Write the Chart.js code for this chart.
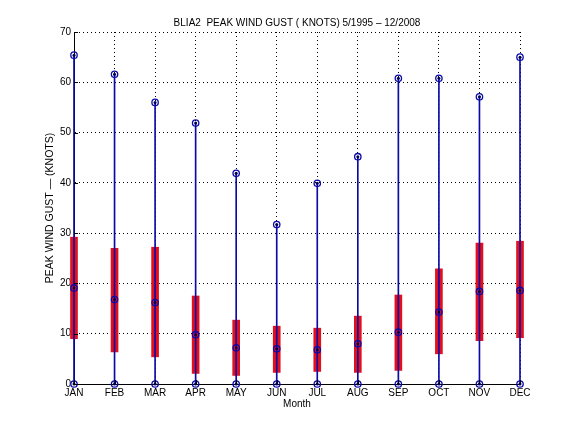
<!DOCTYPE html>
<html>
<head>
<meta charset="utf-8">
<script src="https://cdn.jsdelivr.net/npm/chart.js@4"></script>
<style>
  html, body { margin: 0; padding: 0; background: #fff; }
  #wrap { width: 576px; height: 432px; }
</style>
</head>
<body>
<div id="wrap"><canvas id="gust-chart"></canvas></div>
<script>
const months = ['JAN', 'FEB', 'MAR', 'APR', 'MAY', 'JUN', 'JUL', 'AUG', 'SEP', 'OCT', 'NOV', 'DEC'];
const gustMax = [65.4, 61.6, 56.0, 51.9, 41.9, 31.7, 39.9, 45.2, 60.8, 60.8, 57.1, 65.0];
const gustMean = [19.1, 16.8, 16.2, 9.8, 7.2, 7.0, 6.8, 8.0, 10.3, 14.3, 18.4, 18.6];
const gustMin = [0, 0, 0, 0, 0, 0, 0, 0, 0, 0, 0, 0];
const bandLow = [9.0, 6.4, 5.4, 2.1, 1.7, 2.3, 2.5, 2.3, 2.7, 6.0, 8.6, 9.2];
const bandHigh = [29.2, 27.0, 27.2, 17.5, 12.7, 11.5, 11.1, 13.5, 17.7, 22.9, 28.0, 28.4];
const yTicks = [0, 10, 20, 30, 40, 50, 60, 70];

const FONT = 'Liberation Sans, Arial, Helvetica, sans-serif';
const BLUE = '#0a0aa8';
const RED = '#e2101f';

// MATLAB style inward tick marks
const innerTicks = {
    id: 'innerTicks',
    afterDraw(chart) {
        const { ctx, chartArea, scales } = chart;
        ctx.save();
        ctx.strokeStyle = '#000';
        ctx.lineWidth = 1;
        ctx.beginPath();
        yTicks.forEach(v => {
            const y = Math.round(scales.y.getPixelForValue(v)) + 0.5;
            ctx.moveTo(chartArea.left, y);
            ctx.lineTo(chartArea.left + 4, y);
        });
        months.forEach((m, i) => {
            const x = Math.round(scales.x.getPixelForValue(i)) + 0.5;
            ctx.moveTo(x, chartArea.bottom);
            ctx.lineTo(x, chartArea.bottom - 4);
        });
        ctx.stroke();
        ctx.restore();
    }
};

function markerSet(values) {
    return [{
        type: 'line',
        data: values,
        showLine: false,
        pointRadius: 3.2,
        pointBorderWidth: 1.3,
        pointBorderColor: BLUE,
        pointBackgroundColor: 'rgba(0,0,0,0)',
        clip: false,
        order: 1
    }, {
        type: 'line',
        data: values,
        showLine: false,
        pointRadius: 1.5,
        pointBorderWidth: 0,
        pointBackgroundColor: '#000050',
        clip: false,
        order: 0
    }];
}

new Chart(document.getElementById('gust-chart'), {
    type: 'bar',
    data: {
        labels: months,
        datasets: [
            {
                data: months.map((m, i) => [bandLow[i], bandHigh[i]]),
                backgroundColor: RED,
                barThickness: 7,
                grouped: false,
                clip: false,
                order: 4
            },
            {
                data: months.map((m, i) => [gustMin[i], gustMax[i]]),
                backgroundColor: BLUE,
                barThickness: 1,
                grouped: false,
                clip: false,
                order: 3
            },
            ...markerSet(gustMax),
            ...markerSet(gustMean),
            ...markerSet(gustMin)
        ]
    },
    options: {
        responsive: true,
        maintainAspectRatio: false,
        animation: false,
        events: [],
        layout: { padding: { left: 0, right: 56, top: 0, bottom: 23 } },
        plugins: {
            legend: { display: false },
            tooltip: { enabled: false },
            title: {
                display: true,
                fullSize: false,
                text: 'BLIA2  PEAK WIND GUST ( KNOTS) 5/1995 \u2013 12/2008',
                color: '#000',
                font: { family: FONT, size: 10, weight: 'normal', lineHeight: 1.2 },
                padding: { top: 17, bottom: 3 }
            }
        },
        scales: {
            x: {
                offset: false,
                afterFit: s => { s.height = 25; },
                grid: { display: true, offset: false, color: '#000', lineWidth: 1, drawTicks: false },
                border: { display: true, color: '#000', width: 1, dash: [1, 3] },
                ticks: { color: '#000', font: { family: FONT, size: 10 }, padding: 3, maxRotation: 0, autoSkip: false },
                title: { display: true, text: 'Month', color: '#000', font: { family: FONT, size: 10, lineHeight: 1 }, padding: { top: 0, bottom: 0 } }
            },
            y: {
                min: 0,
                max: 70,
                afterFit: s => { s.width = 74; },
                afterBuildTicks: s => { s.ticks = yTicks.map(v => ({ value: v })); },
                grid: { display: true, color: '#000', lineWidth: 1, drawTicks: false },
                border: { display: true, color: '#000', width: 1, dash: [1, 3] },
                ticks: { color: '#000', font: { family: FONT, size: 10 }, padding: 3 },
                title: { display: true, text: 'PEAK WIND GUST \u2014 (KNOTS)', color: '#000', font: { family: FONT, size: 10.5 }, padding: { top: 43.5, bottom: 0 } }
            }
        }
    },
    plugins: [innerTicks]
});
</script>
</body>
</html>
